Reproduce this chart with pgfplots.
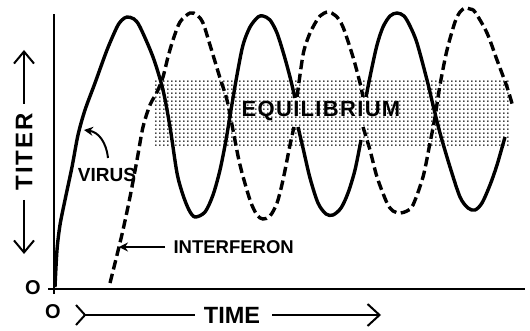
\documentclass[border=0pt]{standalone}
\usepackage{fontspec}
\setmainfont{Liberation Sans}
\usepackage{pgfplots}
\pgfplotsset{compat=1.18}
\usetikzlibrary{arrows.meta,patterns}

% fine dot screen for the equilibrium band
\pgfdeclarepatternformonly{eqdots}{\pgfpointorigin}{\pgfpoint{4.3pt}{4.3pt}}{\pgfpoint{4.3pt}{4.3pt}}{%
  \pgfpathcircle{\pgfpoint{2.15pt}{2.15pt}}{0.95pt}\pgfusepath{fill}}

\newcommand{\lbl}[1]{\bfseries\fontsize{#1}{#1}\selectfont}

\begin{document}
\begin{tikzpicture}
\begin{axis}[
  scale only axis, width=530pt, height=331pt,
  xmin=0, xmax=530, ymin=0, ymax=331, y dir=reverse,
  hide axis, clip=false,
]
\path (0,0) rectangle (530,331);

% Equilibrium band
\fill[pattern=eqdots] (155,80) rectangle (510,148);

% Axes
\draw[line width=2.6pt] (48,289) -- (525,289);
\draw[line width=2.6pt] (54,294) -- (54,14);

% Virus (solid)
\addplot[black, line width=3.4pt, smooth, tension=0.5] coordinates {
(55,287) (57,250) (60,225) (65,200) (72,167) (78,135) (85,110)
(95,83) (107,50) (117,27) (122,20) (127,17) (134,19) (140,27) (153,57) (163,90)
(170,127) (177,173) (183,195) (189,210) (195,217) (205,212) (213,195)
(220,170) (226,140) (231,110) (237,75) (243,45) (250,27) (258,17) (263,16)
(270,20) (277,33) (284,55) (290,77) (295,98)};
\addplot[black, line width=3.4pt, smooth, tension=0.5] coordinates {
(298,127) (303,148) (310,178) (318,203) (326,214) (333,215) (341,208)
(348,193) (355,170) (361,140)};
\addplot[black, line width=3.4pt, smooth, tension=0.5] coordinates {
(366,97) (371,72) (377,45) (383,27) (390,16) (397,13) (404,16) (410,26)
(417,43) (427,80) (433,105) (440,133) (450,167) (460,197) (468,208)
(475,210) (482,203) (490,185) (497,165) (505,137)};

% Interferon (dashed)
\addplot[black, line width=3.4pt, smooth, tension=0.5, dash pattern=on 9.5pt off 4.5pt] coordinates {
(110,283) (117,255) (123,230) (130,197) (137,160) (143,127) (150,105)
(157,92) (163,77) (168,57) (173,40) (180,22) (190,13) (197,15) (203,23)
(210,45) (220,78) (227,100) (233,130) (240,165) (250,200) (257,215)
(263,219) (270,216) (277,203) (283,180) (290,145) (294,127)};
\addplot[black, line width=3.4pt, smooth, tension=0.5, dash pattern=on 9.5pt off 4.5pt] coordinates {
(297,97) (303,55) (308,38) (313,27) (320,16) (328,12) (336,16) (343,27)
(353,57) (360,83) (363,97)};
\addplot[black, line width=3.4pt, smooth, tension=0.5, dash pattern=on 9.5pt off 4.5pt] coordinates {
(363,127) (370,150) (377,177) (387,203) (393,211) (400,213) (407,211)
(413,205) (423,177) (430,143) (435,117) (440,85) (447,50) (455,22)
(460,12) (465,8) (470,9) (475,12) (487,33) (497,60) (507,87) (513,107)};

% Labels
\node[font={\lbl{22}\addfontfeatures{LetterSpace=6}}] at (321,111) {EQUILIBRIUM};
\node[font=\lbl{19}] at (107,175) {VIRUS};
\draw[line width=2pt, -{Stealth[length=9pt,width=9pt]}]
  (108,158) .. controls (106,141) and (98,132) .. (84,130);
\node[font=\lbl{18.5}, anchor=west] at (170,247) {INTERFERON};
\draw[line width=2pt, -{Stealth[length=9pt,width=9pt]}] (165,247) -- (119,247);

\node[font=\lbl{20}] at (33,288) {O};
\node[font=\lbl{20}] at (53,312) {O};

% Time axis title
\node[font=\lbl{23.5}] at (232,315) {TIME};
\draw[line width=2pt, {Straight Barb[reversed,length=9pt,width=20pt]}-] (75,315) -- (195,315);
\draw[line width=2pt, -{Straight Barb[length=12pt,width=22pt]}] (272,315) -- (381,315);

% Titer axis title
\node[font={\lbl{24}\addfontfeatures{LetterSpace=8}}, rotate=90] at (24,152) {TITER};
\draw[line width=2pt, -{Straight Barb[length=12pt,width=20pt]}] (24,104) -- (24,50);
\draw[line width=2pt, -{Straight Barb[length=12pt,width=20pt]}] (24,200) -- (24,254);
\end{axis}
\end{tikzpicture}
\end{document}
